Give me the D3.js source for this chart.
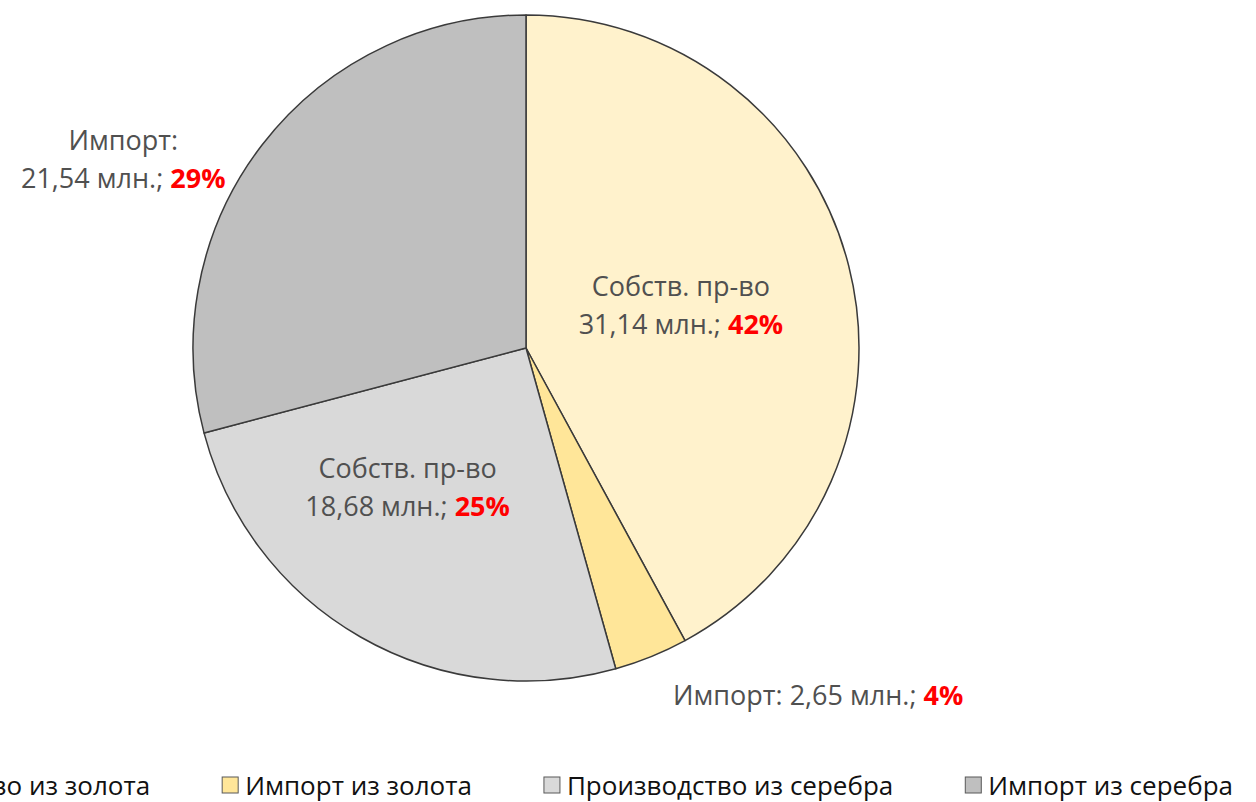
<!DOCTYPE html>
<html>
<head>
<meta charset="utf-8">
<script src="https://cdn.jsdelivr.net/npm/d3@7"></script>
<style>
  html, body { margin: 0; padding: 0; background: #fff; overflow: hidden; }
  svg { display: block; }
  text { font-family: "Open Sans", "Noto Sans", sans-serif; }
</style>
</head>
<body>
<div id="chart"></div>
<script>
// данные
const categories = ['Производство из золота', 'Импорт из золота', 'Производство из серебра', 'Импорт из серебра'];
const values     = [31.14, 2.65, 18.68, 21.54];
const percents   = ['42%', '4%', '25%', '29%'];
const labelHeads = ['Собств. пр-во', 'Импорт:', 'Собств. пр-во', 'Импорт:'];
const colors     = ['#FFF2CC', '#FFE699', '#D9D9D9', '#BFBFBF'];

const width = 1256, height = 802;
const cx = 526, cy = 348, radius = 333;

// как ставить подписи: число строк, доля радиуса, доп. сдвиг
const labelLayout = [
  {lines: 2, r: 0.48, nudge: [0, -4]},
  {lines: 1, r: 1.0,  nudge: [167, 38]},
  {lines: 2, r: 0.48, nudge: [-39, 0]},
  {lines: 2, r: 1.0,  nudge: [-139, 14]},
];

const fmt = v => d3.format('.2f')(v).replace('.', ',');

const svg = d3.select('#chart').append('svg')
  .attr('width', width)
  .attr('height', height);

const pie = d3.pie().sort(null).value(d => d)(values);
const arc = d3.arc().innerRadius(0).outerRadius(radius);

const g = svg.append('g').attr('transform', `translate(${cx},${cy})`);

g.selectAll('path.slice')
  .data(pie)
  .enter().append('path')
  .attr('class', 'slice')
  .attr('d', arc)
  .attr('fill', (d, i) => colors[i])
  .attr('stroke', '#3a3a3a')
  .attr('stroke-width', 1.5)
  .attr('stroke-linejoin', 'round');

// подписи
const fontSize = 27;
pie.forEach((d, i) => {
  const L = labelLayout[i];
  const lr = radius * L.r;
  const c = d3.arc().innerRadius(lr).outerRadius(lr).centroid(d);
  const x = c[0] + L.nudge[0], y = c[1] + L.nudge[1];
  const t = g.append('text')
    .attr('text-anchor', 'middle')
    .attr('font-size', fontSize)
    .attr('fill', '#505050');
  if (L.lines === 2) {
    t.append('tspan').attr('x', x).attr('y', y - 19 + 10).text(labelHeads[i]);
    const l2 = t.append('tspan').attr('x', x).attr('y', y + 19 + 10);
    l2.append('tspan').text(`${fmt(values[i])} млн.; `);
    l2.append('tspan').attr('fill', '#FF0000').attr('font-weight', 'bold').text(percents[i]);
  } else {
    const l1 = t.append('tspan').attr('x', x).attr('y', y + 10);
    l1.append('tspan').text(`${labelHeads[i]} ${fmt(values[i])} млн.; `);
    l1.append('tspan').attr('fill', '#FF0000').attr('font-weight', 'bold').text(percents[i]);
  }
});

// легенда (как в оригинале, левый край обрезан)
const legend = svg.append('g').attr('class', 'legend');
const sw = 16, gapText = 7, gapItem = 72, legendY = 785;
const items = categories.map((name, i) => {
  const it = legend.append('g');
  it.append('rect')
    .attr('width', sw).attr('height', sw)
    .attr('y', -sw / 2)
    .attr('fill', colors[i])
    .attr('stroke', '#595959')
    .attr('stroke-width', 1);
  const tx = it.append('text')
    .attr('x', sw + gapText)
    .attr('y', 10)
    .attr('font-size', 26)
    .attr('fill', '#111')
    .text(name);
  return {g: it, w: sw + gapText + tx.node().getComputedTextLength()};
});
const total = d3.sum(items, d => d.w) + gapItem * (items.length - 1);
let xPos = 1233 - total;
items.forEach(d => {
  d.g.attr('transform', `translate(${xPos},${legendY})`);
  xPos += d.w + gapItem;
});
</script>
</body>
</html>
